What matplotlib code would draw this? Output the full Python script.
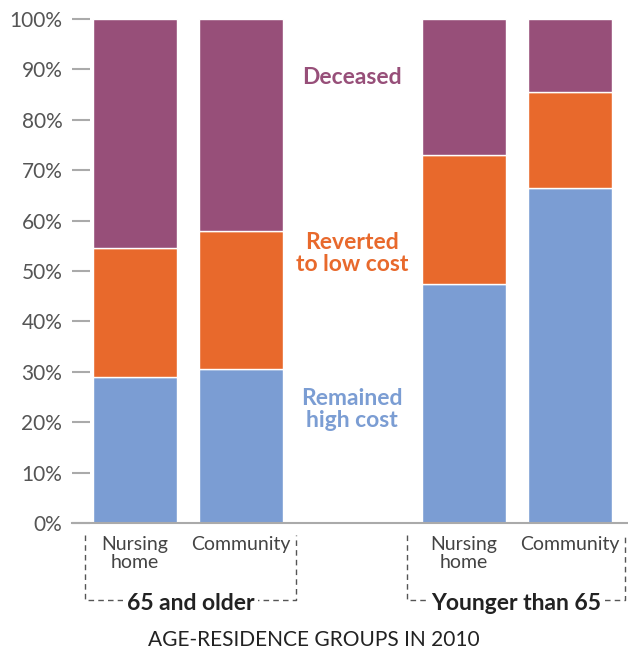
import matplotlib.pyplot as plt
from matplotlib.transforms import blended_transform_factory

# share of high-cost patients by outcome, per age-residence group (percent)
categories = ["Nursing\nhome", "Community", "Nursing\nhome", "Community"]
groups = ["65 and older", "Younger than 65"]
remained = [29, 30.5, 47.5, 66.5]
reverted = [25.5, 27.5, 25.5, 19]
deceased = [45.5, 42, 27, 14.5]
yticks = [0, 10, 20, 30, 40, 50, 60, 70, 80, 90, 100]

blue = "#7b9dd3"
orange = "#e8692c"
purple = "#974f79"

plt.rcParams['font.family'] = ['Lato', 'DejaVu Sans']

fig = plt.figure(figsize=(6.28, 6.6), dpi=100)
ax = fig.add_axes([72 / 628, 1 - 523 / 660, 1 - 72 / 628, (523 - 19) / 660])

xpos = [0, 1, 3.1, 4.1]
w = 0.79
bottom2 = [a + b for a, b in zip(remained, reverted)]
ax.bar(xpos, remained, w, color=blue, edgecolor="white", linewidth=1)
ax.bar(xpos, reverted, w, bottom=remained, color=orange, edgecolor="white", linewidth=1)
ax.bar(xpos, deceased, w, bottom=bottom2, color=purple, edgecolor="white", linewidth=1)

ax.set_xlim(-0.594, 4.65)
ax.set_ylim(0, 100)
ax.set_yticks(yticks)
ax.set_yticklabels([f"{t}%" for t in yticks], fontsize=15, color="#555555")
ax.tick_params(axis="y", direction="in", length=13, width=1.5, color="#aaaaaa", pad=7)
ax.set_xticks([])
for s in ["top", "right", "left"]:
    ax.spines[s].set_visible(False)
ax.spines["bottom"].set_color("#aaaaaa")
ax.spines["bottom"].set_linewidth(1.5)

# series labels in the gap between groups
mid = 2.05
ax.text(mid, 88.4, "Deceased", color=purple, fontsize=16.5, fontweight="bold",
        ha="center", va="center")
ax.text(mid, 53.5, "Reverted\nto low cost", color=orange, fontsize=16.5, fontweight="bold",
        ha="center", va="center", linespacing=1.1)
ax.text(mid, 22.5, "Remained\nhigh cost", color=blue, fontsize=16.5, fontweight="bold",
        ha="center", va="center", linespacing=1.1)

# category labels and dashed group brackets
tr = blended_transform_factory(ax.transData, fig.transFigure)
for x, c in zip(xpos, categories):
    ax.text(x, 1 - 536 / 660, c, transform=tr, ha="center", va="top",
            fontsize=14, color="#444444", linespacing=1.08)

top = 1 - 535 / 660
bot = 1 - 600 / 660
for (x0, x1), g in zip([(-0.472, 1.519), (2.566, 4.623)], groups):
    ax.plot([x0, x0, x1, x1], [top, bot, bot, top], transform=tr, clip_on=False,
            color="#555555", linestyle=(0, (4, 3)), linewidth=1)
    ax.text((x0 + x1) / 2, 1 - 603 / 660, g, transform=tr, ha="center", va="center",
            fontsize=16.5, fontweight="bold", color="#222222",
            bbox=dict(facecolor="white", edgecolor="none", pad=2.5))

fig.text(0.5, 1 - 640 / 660, "AGE-RESIDENCE GROUPS IN 2010", ha="center", va="center",
         fontsize=15, color="#222222")

fig.savefig("out.png", dpi=100)
